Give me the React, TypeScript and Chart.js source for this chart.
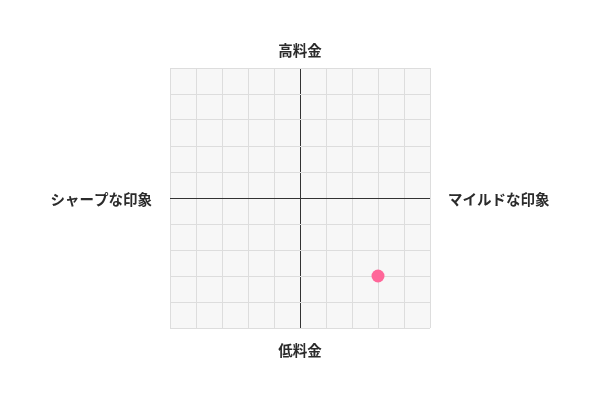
import { useEffect, useRef } from 'react';
import Chart from 'chart.js/auto';

const axisMin = -5;
const axisMax = 5;
const pointX = [3];
const pointY = [-3];
const topLabel = '高料金';
const bottomLabel = '低料金';
const leftLabel = 'シャープな印象';
const rightLabel = 'マイルドな印象';

const labelPlugin = {
    id: 'mapLabels',
    beforeDraw(chart: any) {
        const { ctx, chartArea } = chart;
        ctx.save();
        ctx.fillStyle = '#f7f7f7';
        ctx.fillRect(chartArea.left, chartArea.top, chartArea.right - chartArea.left, chartArea.bottom - chartArea.top);
        ctx.restore();
    },
    afterDraw(chart: any) {
        const { ctx, chartArea } = chart;
        const cx = (chartArea.left + chartArea.right) / 2;
        const cy = (chartArea.top + chartArea.bottom) / 2;
        ctx.save();
        ctx.font = 'bold 14.5px "Noto Sans CJK JP", "Noto Sans", sans-serif';
        ctx.fillStyle = '#2b2b2b';
        ctx.textBaseline = 'middle';
        ctx.textAlign = 'center';
        ctx.fillText(topLabel, cx, chartArea.top - 18);
        ctx.fillText(bottomLabel, cx, chartArea.bottom + 22);
        ctx.textAlign = 'right';
        ctx.fillText(leftLabel, chartArea.left - 18, cy + 1);
        ctx.textAlign = 'left';
        ctx.fillText(rightLabel, chartArea.right + 18, cy + 1);
        ctx.restore();
    },
};

const gridColor = (context: any) => (context.tick && context.tick.value === 0 ? '#333333' : '#dddddd');

const PositioningMap = () => {
    const chartRef = useRef<HTMLCanvasElement>(null);

    useEffect(() => {
        const canvas = chartRef.current;
        if (!canvas) return;
        const ctx = canvas.getContext('2d');
        if (!ctx) return;

        const chart = new Chart(ctx, {
            type: 'scatter',
            data: {
                datasets: [{
                    data: pointX.map((x, i) => ({ x, y: pointY[i] })),
                    backgroundColor: '#ff6699',
                    borderWidth: 0,
                    pointRadius: 6.5,
                }],
            },
            options: {
                responsive: false,
                animation: false,
                layout: {
                    padding: { left: 170, right: 170, top: 68, bottom: 72 },
                },
                plugins: {
                    legend: { display: false },
                    tooltip: { enabled: false },
                },
                scales: {
                    x: {
                        min: axisMin,
                        max: axisMax,
                        ticks: { display: false, stepSize: 1 },
                        grid: { color: gridColor, drawTicks: false },
                        border: { display: false },
                    },
                    y: {
                        min: axisMin,
                        max: axisMax,
                        ticks: { display: false, stepSize: 1 },
                        grid: { color: gridColor, drawTicks: false },
                        border: { display: false },
                    },
                },
            },
            plugins: [labelPlugin],
        });

        return () => {
            chart.destroy();
        };
    }, []);

    return <canvas ref={chartRef} width={600} height={400} style={{ display: 'block' }}></canvas>;
};

export default function App() {
    useEffect(() => {
        document.body.style.margin = '0';
    }, []);
    return <PositioningMap />;
}
